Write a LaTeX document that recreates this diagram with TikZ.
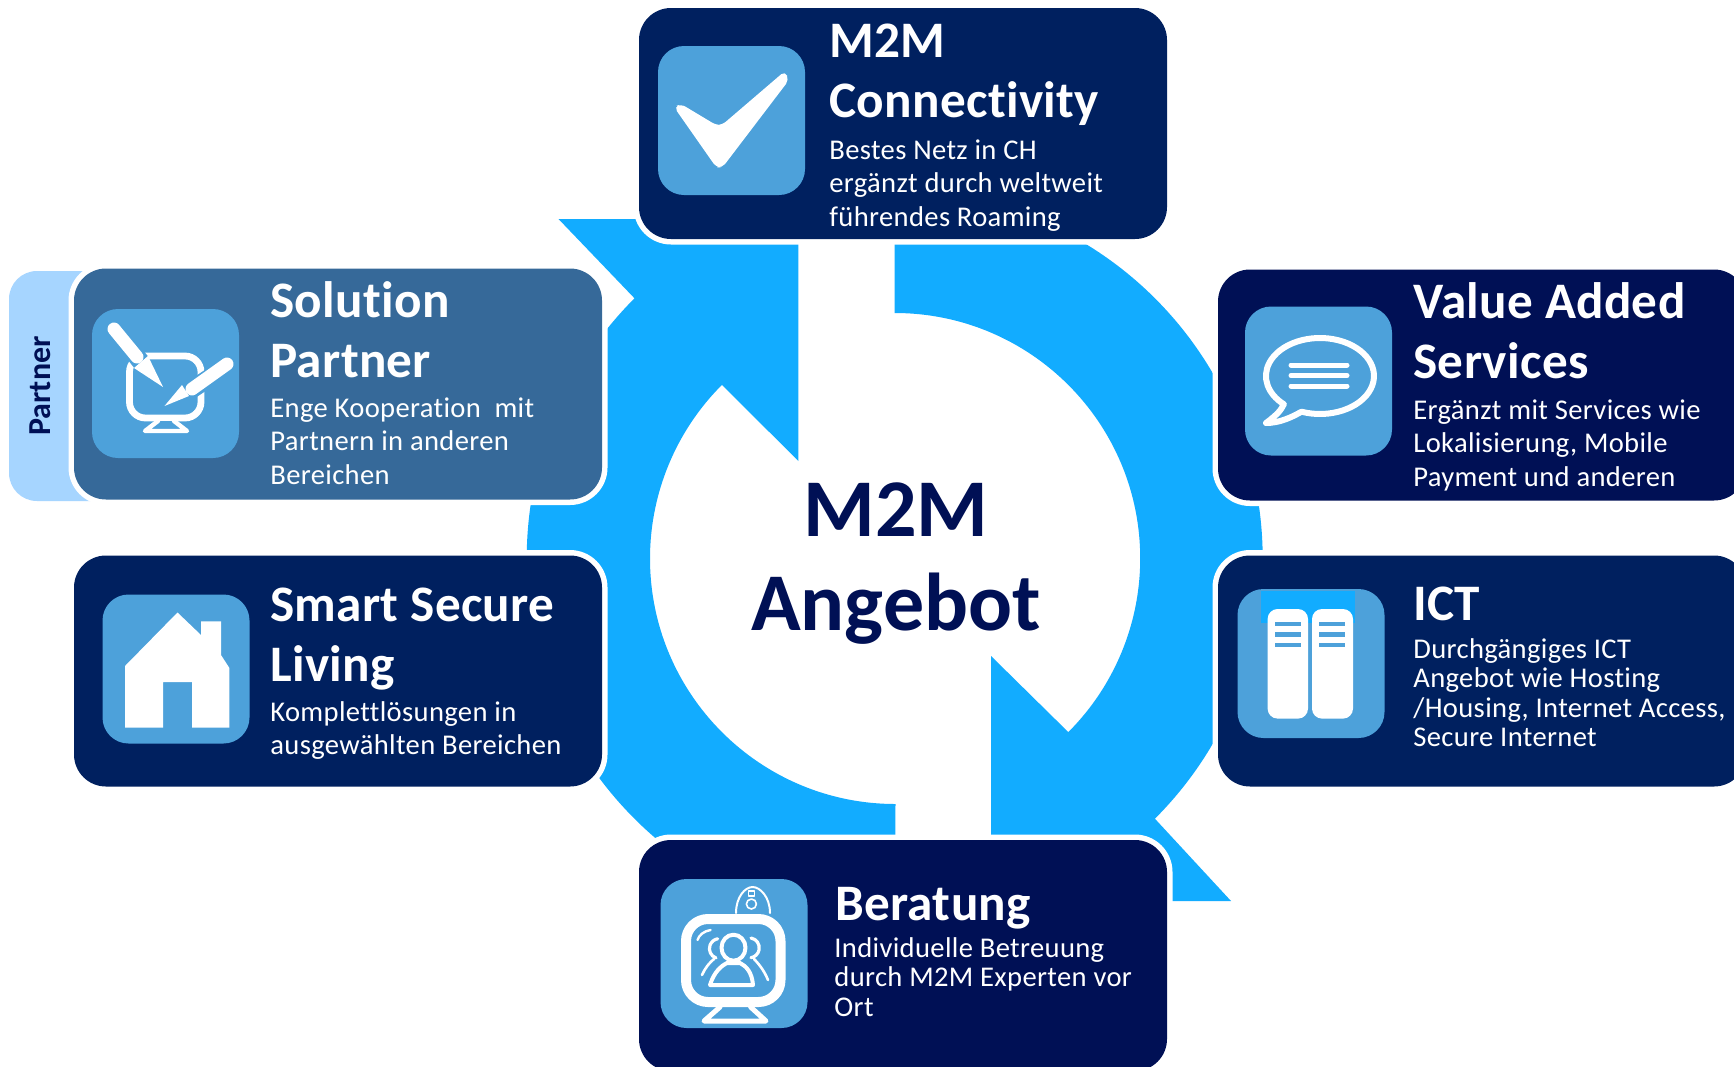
\documentclass[tikz,border=0pt]{standalone}
\usepackage{fontspec}
\setmainfont[Ligatures=NoCommon]{Carlito}
\newfontfamily\bodyfont[Ligatures=NoCommon,LetterSpace=1.2]{Carlito}
\newfontfamily\headfont[Ligatures=NoCommon,LetterSpace=0.6]{Carlito}
\usetikzlibrary{positioning}
\definecolor{ringblue}{HTML}{12ACFF}
\definecolor{tabblue}{HTML}{A6D5FF}
\definecolor{iconblue}{HTML}{4DA1DA}
\definecolor{navy}{HTML}{00205F}
\definecolor{deepnavy}{HTML}{001055}
\definecolor{midblue}{HTML}{366999}
\tikzset{
cardbox/.style={rectangle,minimum width=264pt,minimum height=115.5pt,inner sep=0pt,rounded corners=16pt,preaction={draw=white,line width=5.5pt}},
iconbox/.style={rectangle,minimum width=73.5pt,minimum height=74.5pt,inner sep=0pt,rounded corners=13pt,fill=iconblue},
headtext/.style={anchor=base west,align=left,inner sep=0pt,text=white,font=\headfont\fontsize{25.6}{29.75}\selectfont\bfseries},
bodytext/.style={anchor=base west,align=left,inner sep=0pt,text=white,font=\bodyfont\fontsize{14.3}{16.7}\selectfont},
bodytight/.style={anchor=base west,align=left,inner sep=0pt,text=white,font=\bodyfont\fontsize{14.3}{14.7}\selectfont},
iconline/.style={draw=white,line cap=round,line join=round}
}
\begin{document}
\begin{tikzpicture}[x=0.5pt,y=-0.5pt]
\path[use as bounding box,clip] (0,0) rectangle (1734,1066);
\fill[white] (0,0) rectangle (1734,1066);
\fill[ringblue] (558.5,219) -- (634.5,298.3) arc[start angle=225,end angle=90,radius=368] -- (895.5,804) arc[start angle=90,end angle=225,radius=245.5] -- (798.4,461) -- (798.4,219) -- cycle;
\fill[ringblue] (1231,901) -- (1154.9,818.7) arc[start angle=45,end angle=-90,radius=368] -- (894.7,313) arc[start angle=-90,end angle=45,radius=245.5] -- (991,656) -- (991,901) -- cycle;
\node at (896,630)[anchor=base,align=center,inner sep=0pt,text=deepnavy,font=\fontsize{41}{47}\selectfont\bfseries](center){M2M\\Angebot};
\fill[tabblue,rounded corners=14pt] (9,271) rectangle (130,501);
\node at (50,386)[rotate=90,anchor=base,inner sep=0pt,text=deepnavy,font=\fontsize{16}{18}\selectfont\bfseries](tab){Partner};
\node at (903,123.5)[cardbox,fill=navy](connect){};
\node at (731.5,120.5)[iconbox](connecticon){};
\fill[white,rounded corners=2.5pt] (674,107) -- (681,104) -- (716,125) -- (722,125) -- (785,71) -- (789,80) -- (722,168) -- (716,167) -- cycle;
\node at (829,117)[headtext](connecthead){M2M\\Connectivity};
\node at (829,226)[bodytext](connectbody){Bestes Netz in CH\\ergänzt durch weltweit\\führendes Roaming};
\node at (338,384)[cardbox,fill=midblue](solution){};
\node at (165.5,383.5)[iconbox](solutionicon){};
\draw[iconline,line width=3.4pt,rounded corners=8pt] (129.5,356) rectangle (201,418);
\draw[iconline,line width=2.2pt,fill=iconblue] (158,421) -- (145,431) -- (187,431) -- (174,421);
\draw[iconblue,line width=9pt] (118,333) -- (141,362);
\draw[iconblue,line width=9pt] (224,368) -- (188,392);
\draw[iconline,line width=6.5pt] (114,329) -- (137,357);
\fill[white] (134,368) -- (148,356) -- (163,387) -- cycle;
\draw[iconline,line width=6.5pt] (227,364) -- (192,389);
\fill[white] (182,385) -- (189,396) -- (164.5,406) -- cycle;
\node at (270,377)[headtext](solutionhead){Solution\\Partner};
\node at (270,484)[bodytext](solutionbody){Enge Kooperation\ \ mit\\Partnern in anderen\\Bereichen};
\node at (338,671)[cardbox,fill=navy](living){};
\node at (176,669)[iconbox](livingicon){};
\fill[white] (177.5,612.5) -- (201,635) -- (201,621.4) -- (221,621.4) -- (221,655) -- (229.4,668) -- (229.4,727.5) -- (192,727.5) -- (192,682) -- (163,682) -- (163,727.5) -- (125,727.5) -- (125,666) -- cycle;
\node at (270,681)[headtext](livinghead){Smart Secure\\Living};
\node at (270,754.5)[bodytext](livingbody){Komplettlösungen in\\ausgewählten Bereichen};
\node at (1482,385)[cardbox,fill=deepnavy](services){};
\node at (1318.5,381)[iconbox](servicesicon){};
\draw[iconline,line width=3pt] (1301.5,411.7) arc[start angle=110,end angle=-228,x radius=54,y radius=38] .. controls (1281,410) and (1278,414) .. (1266,423) .. controls (1280,423) and (1292,417) .. (1301.5,411.7);
\draw[iconline,line width=2.5pt] (1291,365) -- (1347,365);
\draw[iconline,line width=2.5pt] (1291,375.5) -- (1347,375.5);
\draw[iconline,line width=2.5pt] (1291,386) -- (1347,386);
\node at (1413,378)[headtext](serviceshead){Value Added\\Services};
\node at (1413,486)[bodytext](servicesbody){Ergänzt mit Services wie\\Lokalisierung, Mobile\\Payment und anderen};
\node at (1482,671)[cardbox,fill=navy](ict){};
\node at (1311,663.5)[iconbox](icticon){};
\fill[ringblue] (1260.5,591) rectangle (1355,622.5);
\fill[white,rounded corners=5pt] (1267.6,718.6) -- (1267.6,609) -- (1308,609) -- (1308,718.6) -- cycle;
\fill[white,rounded corners=5pt] (1312,718.6) -- (1312,609) -- (1353,609) -- (1353,718.6) -- cycle;
\foreach \rowy in {624,634.6,645}{
\draw[iconblue,line width=2.3pt] (1275,\rowy) -- (1301,\rowy);
\draw[iconblue,line width=2.3pt] (1319,\rowy) -- (1345,\rowy);
}
\node at (1413,620)[headtext](icthead){ICT};
\node at (1413,746.5)[bodytight](ictbody){Durchgängiges ICT\\Angebot wie Hosting\\/Housing, Internet Access,\\Secure Internet};
\node at (903,955.5)[cardbox,fill=deepnavy](advice){};
\node at (734,953.5)[iconbox](adviceicon){};
\draw[iconline,line width=5pt,rounded corners=11pt] (686,919) rectangle (780.5,1002);
\draw[iconline,line width=2.5pt] (720,1007) -- (704,1021) -- (766,1021) -- (750.6,1007);
\draw[iconline,line width=1.3pt] (702,975) .. controls (705,968) and (710,962) .. (714,959);
\draw[iconline,line width=1.3pt] (768,980) .. controls (764,970) and (758,963) .. (754,959);
\draw[iconline,line width=1.6pt] (716,958) arc[start angle=110,end angle=260,radius=10];
\draw[iconline,line width=1.6pt] (751,938) arc[start angle=-80,end angle=80,radius=10];
\draw[iconline,line width=2pt,fill=iconblue] (710,985) .. controls (714,972) and (721,966) .. (727,963) -- (740,963) .. controls (746,966) and (752,972) .. (753,985) -- cycle;
\draw[iconline,line width=2pt,fill=iconblue] (733.5,947.7) ellipse[x radius=12,y radius=13];
\draw[iconline,line width=1.2pt] (697.5,940) .. controls (699,935) and (704,931) .. (710.6,930);
\draw[iconline,line width=1pt] (736,913) .. controls (736,897) and (745,887) .. (752.6,887) .. controls (760,887) and (770,897) .. (770,913);
\draw[iconline,line width=0.8pt] (751.4,904) circle[radius=5];
\draw[iconline,line width=0.8pt] (748.5,891) rectangle (754.5,896);
\node at (835,920)[headtext](advicehead){Beratung};
\node at (834,1016)[bodytight](advicebody){Individuelle Betreuung\\durch M2M Experten vor\\Ort};
\end{tikzpicture}
\end{document}
